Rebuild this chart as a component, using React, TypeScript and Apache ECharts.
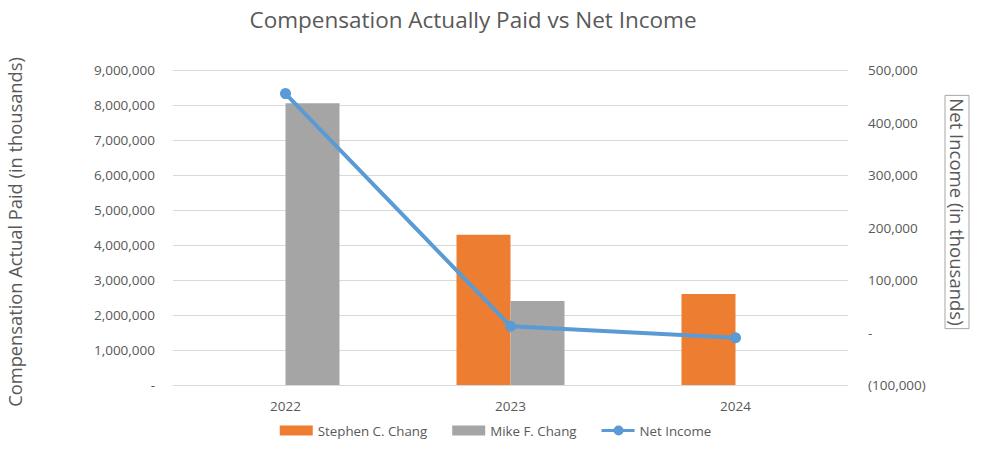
import React, { useEffect, useRef } from "react";
import * as echarts from "echarts";

const years = ["2022", "2023", "2024"];
const stephen: (number | null)[] = [null, 4290000, 2600000];
const mike: (number | null)[] = [8050000, 2400000, null];
const netIncome = [455000, 12000, -10000];

const FONT = "Open Sans";
const TXT = "#595959";
const LINE_ICON =
  "path://M0,3.5h33v3h-33z M12,5a5,5 0 1,1 10,0a5,5 0 1,1 -10,0z";

function fmt(v: number) {
  if (v === 0) return "-";
  const s = Math.abs(v).toLocaleString("en-US");
  return v < 0 ? "(" + s + ")" : s;
}

export default function App() {
  const ref = useRef<HTMLDivElement>(null);
  useEffect(() => {
    const chart = echarts.init(ref.current!, null, { renderer: "svg" });
    chart.setOption({
      animation: false,
      textStyle: { fontFamily: FONT },
      title: {
        text: "Compensation Actually Paid vs Net Income",
        left: 468,
        top: 3,
        textAlign: "center",
        textStyle: { fontFamily: FONT, fontSize: 22.5, fontWeight: "normal", color: TXT },
      },
      grid: { left: 173, right: 143, top: 70, bottom: 65 },
      legend: {
        bottom: 8,
        left: "center",
        itemWidth: 33,
        itemHeight: 10,
        itemGap: 25,
        textStyle: { fontFamily: FONT, fontSize: 13.3, color: TXT },
        data: [
          { name: "Stephen C. Chang", icon: "rect" },
          { name: "Mike F. Chang", icon: "rect" },
          { name: "Net Income", icon: LINE_ICON, itemStyle: { color: "#5B9BD5" } },
        ],
      },
      xAxis: {
        type: "category",
        data: years,
        axisLine: { show: false },
        axisTick: { show: false },
        axisLabel: { fontFamily: FONT, fontSize: 13.5, color: TXT, margin: 14 },
      },
      yAxis: [
        {
          type: "value",
          min: 0,
          max: 9000000,
          interval: 1000000,
          axisLine: { show: false },
          axisTick: { show: false },
          splitLine: { lineStyle: { color: "#d9d9d9" } },
          axisLabel: { fontFamily: FONT, fontSize: 13.5, color: TXT, margin: 18, formatter: fmt },
        },
        {
          type: "value",
          min: -100000,
          max: 500000,
          interval: 100000,
          axisLine: { show: false },
          axisTick: { show: false },
          splitLine: { show: false },
          axisLabel: { fontFamily: FONT, fontSize: 13.5, color: TXT, margin: 20, formatter: fmt },
        },
      ],
      graphic: [
        {
          type: "text",
          x: 14,
          y: 232,
          rotation: Math.PI / 2,
          style: {
            text: "Compensation Actual Paid (in thousands)",
            fontFamily: FONT,
            fontSize: 18.3,
            fill: TXT,
            align: "center",
            verticalAlign: "middle",
          },
        },
        {
          type: "text",
          x: 957,
          y: 212,
          rotation: -Math.PI / 2,
          style: {
            text: "Net Income (in thousands)",
            fontFamily: FONT,
            fontSize: 18.5,
            fill: TXT,
            align: "center",
            verticalAlign: "middle",
            borderColor: "#a6a6a6",
            borderWidth: 1,
            padding: [3, 3, 2, 3],
          },
        },
      ],
      series: [
        {
          name: "Stephen C. Chang",
          type: "bar",
          data: stephen,
          barGap: "0%",
          barCategoryGap: "52%",
          itemStyle: { color: "#ED7D31" },
        },
        {
          name: "Mike F. Chang",
          type: "bar",
          data: mike,
          itemStyle: { color: "#A5A5A5" },
        },
        {
          name: "Net Income",
          type: "line",
          yAxisIndex: 1,
          data: netIncome,
          symbol: "circle",
          symbolSize: 11,
          lineStyle: { width: 4, color: "#5B9BD5" },
          itemStyle: { color: "#5B9BD5" },
        },
      ],
    });
    return () => chart.dispose();
  }, []);
  return (
    <div
      ref={ref}
      style={{ position: "absolute", left: 0, top: 0, width: 991, height: 450 }}
    />
  );
}
